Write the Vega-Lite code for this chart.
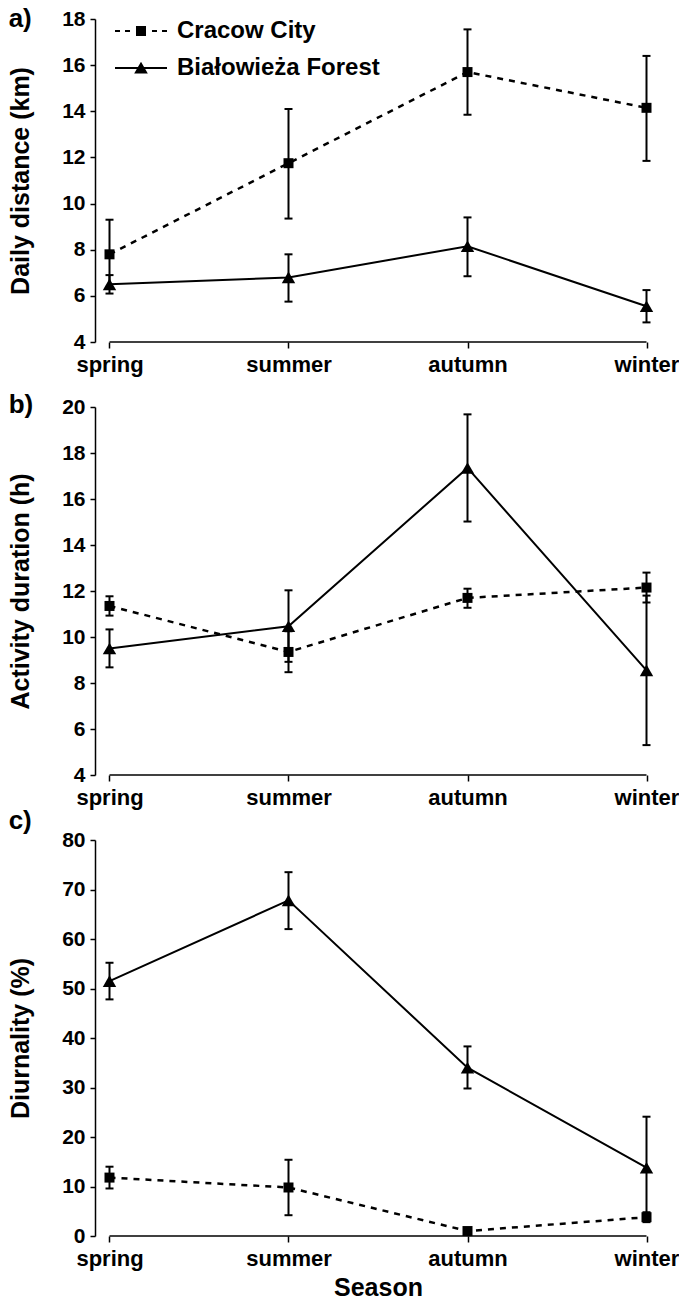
{
  "$schema": "https://vega.github.io/schema/vega-lite/v6.json",
  "padding": {"left": 8, "top": 6, "right": 0, "bottom": 0},
  "datasets": {
    "d": [
      {"panel": "a", "season": "spring", "series": "Cracow City", "mean": 7.8, "lo": 6.3, "hi": 9.3},
      {"panel": "a", "season": "summer", "series": "Cracow City", "mean": 11.75, "lo": 9.35, "hi": 14.1},
      {"panel": "a", "season": "autumn", "series": "Cracow City", "mean": 15.7, "lo": 13.85, "hi": 17.55},
      {"panel": "a", "season": "winter", "series": "Cracow City", "mean": 14.15, "lo": 11.85, "hi": 16.4},
      {"panel": "a", "season": "spring", "series": "Białowieża Forest", "mean": 6.5, "lo": 6.1, "hi": 6.9},
      {"panel": "a", "season": "summer", "series": "Białowieża Forest", "mean": 6.8, "lo": 5.75, "hi": 7.8},
      {"panel": "a", "season": "autumn", "series": "Białowieża Forest", "mean": 8.15, "lo": 6.85, "hi": 9.4},
      {"panel": "a", "season": "winter", "series": "Białowieża Forest", "mean": 5.55, "lo": 4.85, "hi": 6.25},
      {"panel": "b", "season": "spring", "series": "Cracow City", "mean": 11.35, "lo": 10.93, "hi": 11.77},
      {"panel": "b", "season": "summer", "series": "Cracow City", "mean": 9.35, "lo": 8.47, "hi": 10.25},
      {"panel": "b", "season": "autumn", "series": "Cracow City", "mean": 11.7, "lo": 11.27, "hi": 12.1},
      {"panel": "b", "season": "winter", "series": "Cracow City", "mean": 12.15, "lo": 11.5, "hi": 12.8},
      {"panel": "b", "season": "spring", "series": "Białowieża Forest", "mean": 9.5, "lo": 8.68, "hi": 10.33},
      {"panel": "b", "season": "summer", "series": "Białowieża Forest", "mean": 10.47, "lo": 8.92, "hi": 12.03},
      {"panel": "b", "season": "autumn", "series": "Białowieża Forest", "mean": 17.35, "lo": 15.02, "hi": 19.68},
      {"panel": "b", "season": "winter", "series": "Białowieża Forest", "mean": 8.55, "lo": 5.3, "hi": 11.8},
      {"panel": "c", "season": "spring", "series": "Cracow City", "mean": 11.8, "lo": 9.6, "hi": 14},
      {"panel": "c", "season": "summer", "series": "Cracow City", "mean": 9.8, "lo": 4.2, "hi": 15.4},
      {"panel": "c", "season": "autumn", "series": "Cracow City", "mean": 1, "lo": 0.5, "hi": 1.5},
      {"panel": "c", "season": "winter", "series": "Cracow City", "mean": 3.8, "lo": 2.8, "hi": 4.8},
      {"panel": "c", "season": "spring", "series": "Białowieża Forest", "mean": 51.5, "lo": 47.8, "hi": 55.2},
      {"panel": "c", "season": "summer", "series": "Białowieża Forest", "mean": 67.8, "lo": 62, "hi": 73.5},
      {"panel": "c", "season": "autumn", "series": "Białowieża Forest", "mean": 34, "lo": 29.8, "hi": 38.3},
      {"panel": "c", "season": "winter", "series": "Białowieża Forest", "mean": 13.8, "lo": 3.5, "hi": 24.1}
    ]
  },
  "spacing": 0,
  "resolve": {"scale": {"shape": "independent"}, "legend": {"shape": "independent"}},
  "vconcat": [
    {
      "spacing": 17,
      "resolve": {"scale": {"shape": "independent"}, "legend": {"shape": "independent"}},
      "vconcat": [
        {
          "width": 566, "height": 323,
          "title": {"text": "a)", "anchor": "start", "fontSize": 26, "fontWeight": "bold", "font": "Liberation Sans", "color": "black", "offset": 0, "dy": 24},
          "data": {"name": "d"},
          "transform": [{"filter": "datum.panel === 'a'"}],
          "layer": [
            {"data": {"values": [{}]}, "mark": {"type": "rule", "color": "black", "strokeWidth": 1.5},
             "encoding": {"x": {"datum": "spring", "type": "ordinal"}, "x2": {"datum": "winter"}, "y": {"datum": 4, "type": "quantitative"}}},
            {"mark": {"type": "rule", "color": "black", "strokeWidth": 2},
             "encoding": {"x": {"field": "season", "type": "ordinal"}, "y": {"field": "lo", "type": "quantitative"}, "y2": {"field": "hi"}}},
            {"mark": {"type": "tick", "color": "black", "thickness": 2, "size": 8, "orient": "horizontal", "opacity": 1},
             "encoding": {"x": {"field": "season", "type": "ordinal"}, "y": {"field": "lo", "type": "quantitative"}}},
            {"mark": {"type": "tick", "color": "black", "thickness": 2, "size": 8, "orient": "horizontal", "opacity": 1},
             "encoding": {"x": {"field": "season", "type": "ordinal"}, "y": {"field": "hi", "type": "quantitative"}}},
            {"transform": [{"filter": "datum.series === 'Cracow City'"}],
             "mark": {"type": "line", "color": "black", "strokeWidth": 2.5, "strokeDash": [6, 6]},
             "encoding": {"x": {"field": "season", "type": "ordinal"}, "y": {"field": "mean", "type": "quantitative"}}},
            {"transform": [{"filter": "datum.series !== 'Cracow City'"}],
             "mark": {"type": "line", "color": "black", "strokeWidth": 2},
             "encoding": {"x": {"field": "season", "type": "ordinal"}, "y": {"field": "mean", "type": "quantitative"}}},
            {"transform": [{"filter": "datum.series === 'Cracow City'"}],
             "mark": {"type": "point", "shape": "square", "filled": true, "size": 100, "color": "black", "opacity": 1},
             "encoding": {"x": {"field": "season", "type": "ordinal"}, "y": {"field": "mean", "type": "quantitative"}}},
            {"transform": [{"filter": "datum.series !== 'Cracow City'"}],
             "mark": {"type": "point", "shape": "triangle-up", "filled": true, "size": 180, "color": "black", "opacity": 1},
             "encoding": {"x": {"field": "season", "type": "ordinal"}, "y": {"field": "mean", "type": "quantitative"}}},
            {"transform": [{"filter": "datum.panel === 'legend-only'"}],
             "mark": {"type": "point", "filled": true, "size": 169, "color": "black", "opacity": 1},
             "encoding": {"x": {"field": "season", "type": "ordinal"}, "y": {"field": "mean", "type": "quantitative"},
               "shape": {"field": "series", "type": "nominal",
                 "scale": {"domain": ["Cracow City", "Białowieża Forest"], "range": [
                   "M-4,-0.16H-3.23V0.16H-4Z M-2.46,-0.16H-1.69V0.16H-2.46Z M1.69,-0.16H2.46V0.16H1.69Z M3.23,-0.16H4V0.16H3.23Z M-0.77,-0.77H0.77V0.77H-0.77Z",
                   "M-4,-0.16H4V0.16H-4Z M0,-0.95L1.05,0.85H-1.05Z"]},
                 "legend": {"orient": "none", "legendX": 34, "legendY": 0, "title": null, "labelFont": "Liberation Sans", "labelFontWeight": "bold", "labelFontSize": 24, "labelColor": "black", "labelLimit": 400, "symbolSize": 169, "symbolFillColor": "black", "labelOffset": 24, "rowPadding": 13, "padding": 0}}}}
          ],
          "encoding": {
            "x": {"field": "season", "type": "ordinal", "sort": ["spring", "summer", "autumn", "winter"], "scale": {"type": "point", "padding": 0.081}, "axis": {"title": null}},
            "y": {"type": "quantitative", "scale": {"domain": [4, 18], "nice": false, "zero": false}, "axis": {"values": [4, 6, 8, 10, 12, 14, 16, 18], "title": "Daily distance (km)"}}
          }
        },
        {
          "width": 566, "height": 368,
          "title": {"text": "b)", "anchor": "start", "fontSize": 26, "fontWeight": "bold", "font": "Liberation Sans", "color": "black", "offset": 0, "dy": 22},
          "data": {"name": "d"},
          "transform": [{"filter": "datum.panel === 'b'"}],
          "layer": [
            {"data": {"values": [{}]}, "mark": {"type": "rule", "color": "black", "strokeWidth": 1.5},
             "encoding": {"x": {"datum": "spring", "type": "ordinal"}, "x2": {"datum": "winter"}, "y": {"datum": 4, "type": "quantitative"}}},
            {"mark": {"type": "rule", "color": "black", "strokeWidth": 2},
             "encoding": {"x": {"field": "season", "type": "ordinal"}, "y": {"field": "lo", "type": "quantitative"}, "y2": {"field": "hi"}}},
            {"mark": {"type": "tick", "color": "black", "thickness": 2, "size": 8, "orient": "horizontal", "opacity": 1},
             "encoding": {"x": {"field": "season", "type": "ordinal"}, "y": {"field": "lo", "type": "quantitative"}}},
            {"mark": {"type": "tick", "color": "black", "thickness": 2, "size": 8, "orient": "horizontal", "opacity": 1},
             "encoding": {"x": {"field": "season", "type": "ordinal"}, "y": {"field": "hi", "type": "quantitative"}}},
            {"transform": [{"filter": "datum.series === 'Cracow City'"}],
             "mark": {"type": "line", "color": "black", "strokeWidth": 2.5, "strokeDash": [6, 6]},
             "encoding": {"x": {"field": "season", "type": "ordinal"}, "y": {"field": "mean", "type": "quantitative"}}},
            {"transform": [{"filter": "datum.series !== 'Cracow City'"}],
             "mark": {"type": "line", "color": "black", "strokeWidth": 2},
             "encoding": {"x": {"field": "season", "type": "ordinal"}, "y": {"field": "mean", "type": "quantitative"}}},
            {"transform": [{"filter": "datum.series === 'Cracow City'"}],
             "mark": {"type": "point", "shape": "square", "filled": true, "size": 100, "color": "black", "opacity": 1},
             "encoding": {"x": {"field": "season", "type": "ordinal"}, "y": {"field": "mean", "type": "quantitative"}}},
            {"transform": [{"filter": "datum.series !== 'Cracow City'"}],
             "mark": {"type": "point", "shape": "triangle-up", "filled": true, "size": 180, "color": "black", "opacity": 1},
             "encoding": {"x": {"field": "season", "type": "ordinal"}, "y": {"field": "mean", "type": "quantitative"}}}
          ],
          "encoding": {
            "x": {"field": "season", "type": "ordinal", "sort": ["spring", "summer", "autumn", "winter"], "scale": {"type": "point", "padding": 0.081}, "axis": {"title": null}},
            "y": {"type": "quantitative", "scale": {"domain": [4, 20], "nice": false, "zero": false}, "axis": {"values": [4, 6, 8, 10, 12, 14, 16, 18, 20], "title": "Activity duration (h)"}}
          }
        }
      ]
    },
    {
      "width": 566, "height": 396,
      "title": {"text": "c)", "anchor": "start", "fontSize": 26, "fontWeight": "bold", "font": "Liberation Sans", "color": "black", "offset": 0, "dy": 5},
      "data": {"name": "d"},
      "transform": [{"filter": "datum.panel === 'c'"}],
      "layer": [
        {"data": {"values": [{}]}, "mark": {"type": "rule", "color": "black", "strokeWidth": 1.5},
         "encoding": {"x": {"datum": "spring", "type": "ordinal"}, "x2": {"datum": "winter"}, "y": {"datum": 0, "type": "quantitative"}}},
        {"mark": {"type": "rule", "color": "black", "strokeWidth": 2},
         "encoding": {"x": {"field": "season", "type": "ordinal"}, "y": {"field": "lo", "type": "quantitative"}, "y2": {"field": "hi"}}},
        {"mark": {"type": "tick", "color": "black", "thickness": 2, "size": 8, "orient": "horizontal", "opacity": 1},
         "encoding": {"x": {"field": "season", "type": "ordinal"}, "y": {"field": "lo", "type": "quantitative"}}},
        {"mark": {"type": "tick", "color": "black", "thickness": 2, "size": 8, "orient": "horizontal", "opacity": 1},
         "encoding": {"x": {"field": "season", "type": "ordinal"}, "y": {"field": "hi", "type": "quantitative"}}},
        {"transform": [{"filter": "datum.series === 'Cracow City'"}],
         "mark": {"type": "line", "color": "black", "strokeWidth": 2.5, "strokeDash": [6, 6]},
         "encoding": {"x": {"field": "season", "type": "ordinal"}, "y": {"field": "mean", "type": "quantitative"}}},
        {"transform": [{"filter": "datum.series !== 'Cracow City'"}],
         "mark": {"type": "line", "color": "black", "strokeWidth": 2},
         "encoding": {"x": {"field": "season", "type": "ordinal"}, "y": {"field": "mean", "type": "quantitative"}}},
        {"transform": [{"filter": "datum.series === 'Cracow City'"}],
         "mark": {"type": "point", "shape": "square", "filled": true, "size": 100, "color": "black", "opacity": 1},
         "encoding": {"x": {"field": "season", "type": "ordinal"}, "y": {"field": "mean", "type": "quantitative"}}},
        {"transform": [{"filter": "datum.series !== 'Cracow City'"}],
         "mark": {"type": "point", "shape": "triangle-up", "filled": true, "size": 180, "color": "black", "opacity": 1},
         "encoding": {"x": {"field": "season", "type": "ordinal"}, "y": {"field": "mean", "type": "quantitative"}}}
      ],
      "encoding": {
        "x": {"field": "season", "type": "ordinal", "sort": ["spring", "summer", "autumn", "winter"], "scale": {"type": "point", "padding": 0.081}, "axis": {"title": "Season", "titleFontSize": 25, "titlePadding": 6}},
        "y": {"type": "quantitative", "scale": {"domain": [0, 80], "nice": false, "zero": false}, "axis": {"values": [0, 10, 20, 30, 40, 50, 60, 70, 80], "title": "Diurnality (%)"}}
      }
    }
  ],
  "config": {
    "font": "Liberation Sans",
    "view": {"stroke": null},
    "axisX": {"domain": false, "ticks": true, "tickColor": "black", "tickSize": 6, "tickWidth": 1.5, "labelFontSize": 22, "labelFontWeight": "bold", "labelColor": "black", "labelPadding": 6, "labelAngle": 0, "grid": false, "titleFontWeight": "bold", "titleColor": "black"},
    "axisY": {"domain": true, "domainColor": "black", "domainWidth": 1.5, "ticks": true, "tickColor": "black", "tickSize": 5, "tickWidth": 1.5, "labelFontSize": 21, "labelFontWeight": "bold", "labelColor": "black", "labelPadding": 5, "grid": false, "titleFontSize": 25, "titleFontWeight": "bold", "titleColor": "black", "titlePadding": 28}
  }
}
